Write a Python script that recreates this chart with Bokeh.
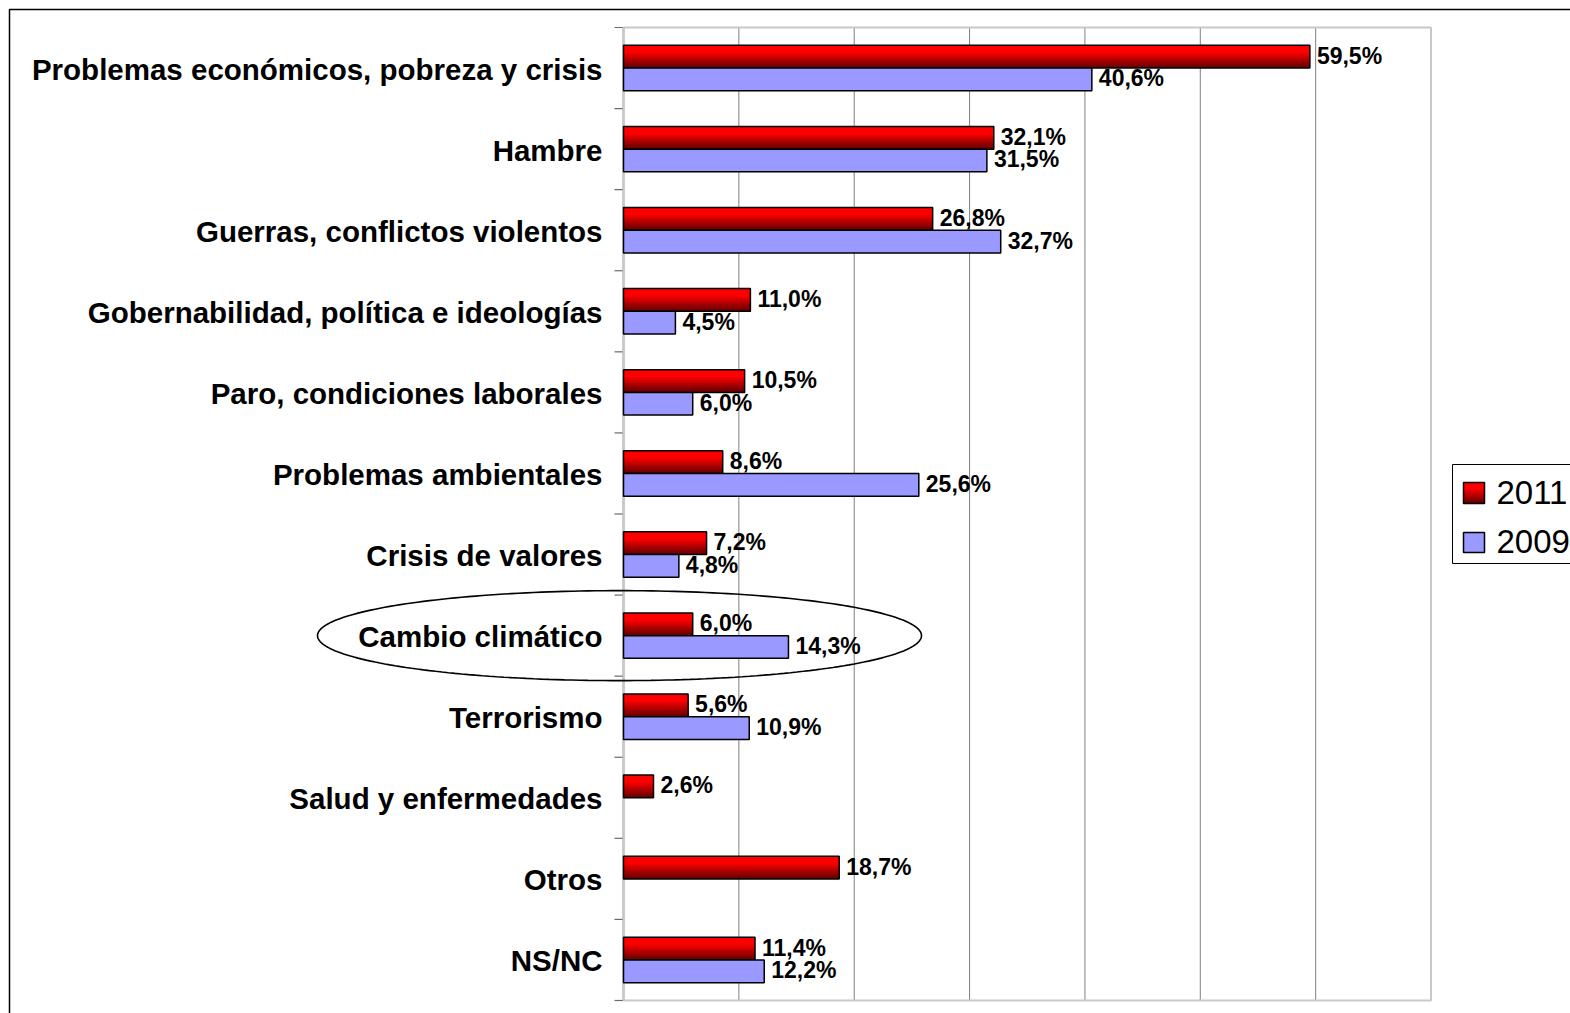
import numpy as np
from bokeh.plotting import figure
from bokeh.models import (ColumnDataSource, Range1d, LabelSet, Label, Grid,
                          BoxAnnotation, PolyAnnotation)
from bokeh.transform import dodge
from bokeh.core.properties import value
from bokeh.embed import file_html
from bokeh.resources import INLINE

# ---------------- data ----------------
categories = [
    "Problemas económicos, pobreza y crisis",
    "Hambre",
    "Guerras, conflictos violentos",
    "Gobernabilidad, política e ideologías",
    "Paro, condiciones laborales",
    "Problemas ambientales",
    "Crisis de valores",
    "Cambio climático",
    "Terrorismo",
    "Salud y enfermedades",
    "Otros",
    "NS/NC",
]
values_2011 = [59.5, 32.1, 26.8, 11.0, 10.5, 8.6, 7.2, 6.0, 5.6, 2.6, 18.7, 11.4]
values_2009 = [40.6, 31.5, 32.7, 4.5, 6.0, 25.6, 4.8, 14.3, 10.9, None, None, 12.2]
series_names = ["2011", "2009"]
highlight = "Cambio climático"
x_max = 70
grid_ticks = [10, 20, 30, 40, 50, 60]

# ---------------- layout (pixels) ----------------
FONT = "Liberation Sans"
W, H = 1570, 1013
PLOT_L, PLOT_R, PLOT_T, PLOT_B = 623, 1430.5, 27, 1000
n = len(categories)
sx = (PLOT_R - PLOT_L) / x_max
sy = (PLOT_B - PLOT_T) / n


def dx(px):
    return (px - PLOT_L) / sx


def dy(py):
    return n - (py - PLOT_T) / sy


BAR_H = 0.28
centers = [n - 0.5 - i for i in range(n)]
boundaries = list(range(n + 1))


def fmt(v):
    return ("%.1f" % v).replace(".", ",") + "%"


def red_shade(t):
    # t: 0 at top, 1 at bottom
    if t < 0.3:
        r = 255
    else:
        r = int(255 - (255 - 95) * ((t - 0.3) / 0.7))
    return "#%02x0000" % r


p = figure(width=W, height=H, output_backend="svg", toolbar_location=None,
           x_range=Range1d(dx(0), dx(W)), y_range=Range1d(dy(H), dy(0)),
           x_axis_location=None, y_axis_location=None,
           min_border=0, min_border_left=0, min_border_right=0,
           min_border_top=0, min_border_bottom=0,
           background_fill_color="white", border_fill_color="white",
           outline_line_color=None)

# remove default grids
for r in list(p.center):
    if isinstance(r, Grid):
        r.visible = False

# ---------------- plot-area decorations ----------------
# vertical grid lines
p.segment(x0=grid_ticks, y0=[0] * len(grid_ticks), x1=grid_ticks, y1=[n] * len(grid_ticks),
          line_color="#808080", line_width=1, level="underlay")
# light gray plot-area border
p.add_layout(BoxAnnotation(left=0, right=x_max, bottom=0, top=n, fill_alpha=0,
                           line_color="#c8c8c8", line_alpha=1, line_width=2, level="underlay"))
# y axis line and outward ticks at the category boundaries
p.segment(x0=[dx(PLOT_L - 9)] * len(boundaries), y0=boundaries, x1=[0] * len(boundaries),
          y1=boundaries, line_color="#6a6a6a", line_width=1.2, level="underlay")
p.segment(x0=[0], y0=[0], x1=[0], y1=[n], line_color="#4a4a4a", line_width=1.5, level="underlay")

# ---------------- 2011 bars (gradient) ----------------
src11 = ColumnDataSource(dict(
    y=[c + BAR_H / 2 for c in centers],
    right=values_2011,
    label=[fmt(v) for v in values_2011],
))
N = 12
for k in range(N):
    t = (k + 0.5) / N
    top = BAR_H / 2 - k * BAR_H / N
    bot = -BAR_H / 2
    p.hbar(y=dodge("y", (top + bot) / 2, range=p.y_range), height=top - bot, left=0, right="right",
           source=src11, fill_color=red_shade(t), line_color=None)
p.hbar(y="y", height=BAR_H, left=0, right="right", source=src11,
       fill_color=None, line_color="black", line_width=1.5)

# ---------------- 2009 bars ----------------
idx09 = [i for i, v in enumerate(values_2009) if v is not None]
src09 = ColumnDataSource(dict(
    y=[centers[i] - BAR_H / 2 for i in idx09],
    right=[values_2009[i] for i in idx09],
    label=[fmt(values_2009[i]) for i in idx09],
))
p.hbar(y="y", height=BAR_H, left=0, right="right", source=src09,
       fill_color="#9999ff", line_color="black", line_width=1.5)

# ---------------- value labels ----------------
for src in (src11, src09):
    p.add_layout(LabelSet(x="right", y="y", text="label", source=src, x_offset=7, y_offset=1,
                          text_baseline="middle", text_align="left",
                          text_font=value(FONT), text_font_size=value("23px"),
                          text_font_style="bold", text_color="black"))

# ---------------- category labels ----------------
srccat = ColumnDataSource(dict(x=[0] * n, y=centers, text=categories))
p.add_layout(LabelSet(x="x", y="y", text="text", source=srccat, x_offset=-21, y_offset=-1,
                      text_align="right", text_baseline="middle",
                      text_font=value(FONT), text_font_size=value("29.5px"),
                      text_font_style="bold", text_color="black"))

# ---------------- ellipse highlight ----------------
hi = categories.index(highlight)
theta = np.linspace(0, 2 * np.pi, 241)
ecx, ehw = dx(619), 302 / sx
ehh = 45 / sy
ex = ecx + ehw * np.cos(theta)
ey = centers[hi] + ehh * np.sin(theta)
p.add_layout(PolyAnnotation(xs=list(ex), ys=list(ey), fill_alpha=0,
                            line_color="black", line_alpha=1, line_width=1.6))

# ---------------- legend (manual) ----------------
p.add_layout(BoxAnnotation(left=dx(1452), right=dx(W + 40), top=dy(464), bottom=dy(563),
                           fill_color="white", fill_alpha=1, line_color="black",
                           line_alpha=1, line_width=1))
sq_l, sq_r = dx(1463), dx(1484)
r_top, r_bot = dy(482), dy(503)
M = 10
for k in range(M):
    t = (k + 0.5) / M
    top = r_top - k * (r_top - r_bot) / M
    p.add_layout(BoxAnnotation(left=sq_l, right=sq_r, top=top, bottom=r_bot,
                               fill_color=red_shade(t), fill_alpha=1, line_color=None))
p.add_layout(BoxAnnotation(left=sq_l, right=sq_r, top=r_top, bottom=r_bot,
                           fill_alpha=0, line_color="black", line_alpha=1, line_width=1.5))
p.add_layout(BoxAnnotation(left=sq_l, right=sq_r, top=dy(532), bottom=dy(552),
                           fill_color="#9999ff", fill_alpha=1, line_color="black",
                           line_alpha=1, line_width=1.5))
p.add_layout(Label(x=dx(1496), y=dy(492), text=series_names[0], text_baseline="middle",
                   text_font=FONT, text_font_size="33px", text_color="black"))
p.add_layout(Label(x=dx(1496), y=dy(541), text=series_names[1], text_baseline="middle",
                   text_font=FONT, text_font_size="33px", text_color="black"))

# ---------------- outer border ----------------
p.add_layout(BoxAnnotation(left=dx(9), right=dx(W + 40), top=dy(9), bottom=dy(H + 40),
                           fill_alpha=0, line_color="black", line_alpha=1, line_width=1.5))

open("out.html", "w").write(file_html(p, INLINE))
